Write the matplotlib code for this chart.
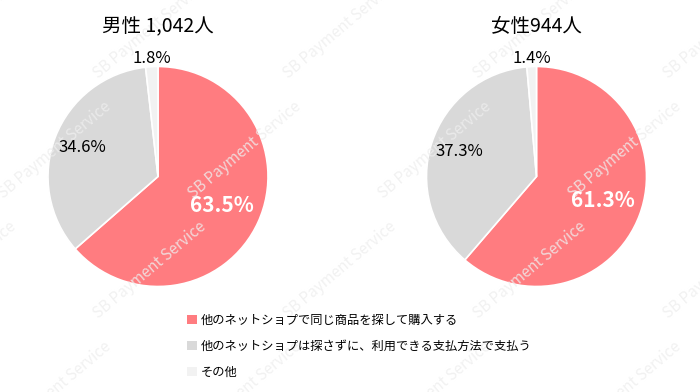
import numpy as np
import matplotlib
matplotlib.use("Agg")
from matplotlib import pyplot as plt
from matplotlib.patches import Patch

plt.rcParams['font.family'] = ['Noto Sans CJK JP', 'DejaVu Sans']

# data
categories = ["他のネットショプで同じ商品を探して購入する",
              "他のネットショプは探さずに、利用できる支払方法で支払う",
              "その他"]
titles = ["男性 1,042人", "女性944人"]
men_values = [63.5, 34.6, 1.8]
women_values = [61.3, 37.3, 1.4]
colors = ["#FF7C80", "#D9D9D9", "#F2F2F2"]

W, H = 700, 392
fig = plt.figure(figsize=(W / 100, H / 100), dpi=100)

radius_px = 110
centers = [(158, 176.5), (536.5, 176.5)]
# label distance (as fraction of radius) for each slice
label_r = [0.64, 0.74, 1.07]

for (cx, cy), vals, title in zip(centers, [men_values, women_values], titles):
    ax = fig.add_axes([(cx - radius_px) / W, (H - cy - radius_px) / H,
                       2 * radius_px / W, 2 * radius_px / H])
    wedges, _ = ax.pie(vals, colors=colors, startangle=90, counterclock=False,
                       radius=1, wedgeprops=dict(edgecolor="white", linewidth=1.2))
    ax.set_xlim(-1, 1)
    ax.set_ylim(-1, 1)
    ax.set_aspect("equal")
    ax.axis("off")

    # percent labels at slice mid angles (figure-level so they sit above the watermark)
    start = 90.0
    for i, v in enumerate(vals):
        span = v / sum(vals) * 360
        mid = np.deg2rad(start - span / 2)
        start -= span
        tx, ty = label_r[i] * np.cos(mid), label_r[i] * np.sin(mid)
        if i == 0:
            fig.text(tx, ty, f"{v:.1f}%", color="white", fontsize=15,
                     fontweight="bold", ha="center", va="center",
                     transform=ax.transData, zorder=10)
        else:
            fig.text(tx, ty, f"{v:.1f}%", color="black", fontsize=12,
                     ha="center", va="center", transform=ax.transData, zorder=10)

    fig.text(cx / W, 1 - 27 / H, title, fontsize=14, ha="center", va="center", zorder=10)

handles = [Patch(facecolor=c, edgecolor="none") for c in colors]
leg = fig.legend(handles, categories, loc="upper left", bbox_to_anchor=(176 / W, 1 - 303 / H),
                 frameon=False, fontsize=8.8, handlelength=0.8, handleheight=0.8,
                 handletextpad=0.3, labelspacing=1.05)
leg.set_zorder(10)

# faint watermark, tiled
for row, yy in enumerate([30, 150, 270, 390]):
    for xx in np.arange(-40, 760, 190):
        fig.text((xx + (row % 2) * 95) / W, 1 - yy / H, "SB Payment Service",
                 rotation=40, color="#EEEEEE", alpha=0.8, fontsize=11,
                 ha="center", va="center", zorder=5)

fig.savefig("out.png", dpi=100, facecolor="white")
